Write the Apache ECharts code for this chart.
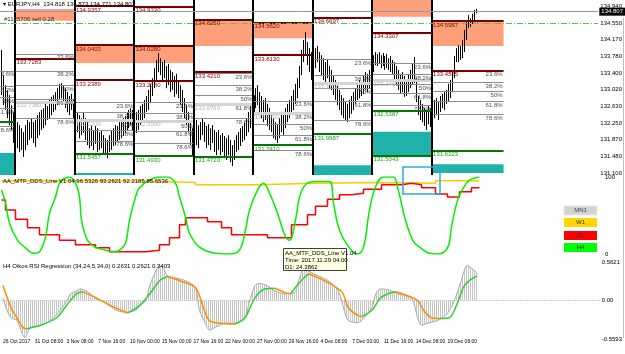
<!DOCTYPE html>
<html>
<head>
<meta charset="utf-8">
<script src="https://cdn.jsdelivr.net/npm/echarts@6/dist/echarts.min.js"></script>
<style>
  html, body { margin: 0; padding: 0; background: #fff; }
  #chart { width: 625px; height: 354px; }
</style>
</head>
<body>
<div id="chart"></div>
<script>
// ---- price bars (H4, one slot = one bar) ----
const barHigh = [
  133.93, 133.35, 133.12, 133.01, 132.89, 132.66, 132.50,
  132.36, 132.27, 132.20, 132.13, 132.04, 132.20, 132.32, 132.27, 132.36, 132.27, 132.32, 132.43, 132.50, 132.55, 132.59, 132.69, 132.64, 132.78, 132.85, 132.89, 132.96, 133.05, 133.15, 133.17, 133.12, 133.05, 132.96, 132.87, 132.92, 132.78,
  132.59, 132.50, 132.43, 132.36, 132.50, 132.36, 132.27, 132.13, 132.20, 132.09, 132.18, 132.13, 132.04, 132.09, 131.97, 131.90, 131.86, 131.97, 132.09, 132.13, 132.20, 132.18, 132.27, 132.32, 132.36, 132.41, 132.50, 132.55, 132.59, 132.55,
  132.59, 132.50, 132.55, 132.64, 132.69, 132.78, 132.87, 133.01, 133.15, 133.28, 133.51, 133.70, 133.86, 133.74, 133.65, 133.70, 133.56, 133.61, 133.47, 133.42, 133.33, 133.38, 133.24, 133.12, 133.01, 132.82, 132.66, 132.50, 132.27, 132.13,
  132.36, 132.32, 132.20, 132.27, 132.36, 132.27, 132.18, 132.22, 132.13, 132.20, 132.09, 132.04, 132.09, 131.97, 132.02, 131.95, 131.90, 131.97, 131.86, 131.74, 131.86, 131.97, 132.04, 132.13, 132.18, 132.27, 132.36, 132.50, 132.64, 132.78,
  132.89, 133.05, 133.12, 132.96, 132.87, 132.78, 132.82, 132.69, 132.59, 132.50, 132.36, 132.27, 132.20, 132.36, 132.50, 132.43, 132.59, 132.69, 132.78, 132.87, 133.01, 133.15, 133.28, 133.56, 133.93, 134.16, 134.34, 134.11, 133.97, 133.88,
  134.04, 133.97, 134.02, 133.88, 133.81, 133.74, 133.65, 133.70, 133.56, 133.47, 133.35, 133.24, 133.10, 133.01, 132.89, 132.82, 132.73, 132.69, 132.78, 132.87, 132.96, 133.05, 133.15, 133.24, 133.19, 133.33, 133.42, 133.38, 133.47, 133.51,
  133.81, 133.88, 133.84, 133.88, 133.81, 133.86, 133.79, 133.84, 133.74, 133.79, 133.70, 133.65, 133.56, 133.47, 133.38, 133.42, 133.33, 133.24, 133.38, 133.47, 133.61, 133.77, 133.28, 132.87, 132.78, 132.69, 132.59, 132.55, 132.64, 132.59,
  132.66, 132.78, 132.82, 132.73, 132.87, 132.92, 132.96, 133.01, 133.15, 133.24, 133.47, 133.79, 133.97, 134.04, 134.02, 134.16, 134.39, 134.57, 134.73, 134.66, 134.76, 134.85, 134.873
];
const barLow = [
  132.89, 132.66, 132.55, 132.36, 132.20, 132.09, 131.79,
  131.86, 131.67, 131.58, 131.63, 131.47, 131.63, 131.74, 131.86, 131.90, 131.79, 131.70, 131.90, 131.97, 132.09, 132.13, 132.20, 132.32, 132.36, 132.43, 132.50, 132.55, 132.66, 132.78, 132.82, 132.73, 132.59, 132.50, 132.43, 132.55, 132.36,
  132.13, 132.04, 131.90, 131.97, 132.02, 131.86, 131.74, 131.67, 131.72, 131.63, 131.77, 131.58, 131.63, 131.67, 131.56, 131.51, 131.44, 131.58, 131.63, 131.72, 131.74, 131.81, 131.86, 131.90, 131.95, 132.02, 132.09, 132.13, 132.20, 132.09,
  132.13, 132.02, 132.09, 132.20, 132.27, 132.36, 132.50, 132.55, 132.73, 132.87, 133.05, 133.24, 133.42, 133.35, 133.19, 133.28, 133.05, 133.12, 132.96, 133.01, 132.85, 132.92, 132.82, 132.66, 132.50, 132.36, 132.20, 132.04, 131.74, 131.51,
  131.63, 131.74, 131.67, 131.86, 131.97, 131.81, 131.67, 131.74, 131.63, 131.79, 131.58, 131.51, 131.63, 131.51, 131.58, 131.44, 131.40, 131.51, 131.35, 131.26, 131.40, 131.58, 131.63, 131.72, 131.81, 131.86, 131.95, 132.04, 132.13, 132.20,
  132.43, 132.59, 132.66, 132.50, 132.36, 132.27, 132.32, 132.18, 132.09, 132.04, 131.90, 131.86, 131.79, 131.90, 132.04, 131.95, 132.13, 132.27, 132.36, 132.46, 132.55, 132.69, 132.82, 133.05, 133.35, 133.65, 133.81, 133.58, 133.42, 133.24,
  133.58, 133.51, 133.65, 133.42, 133.35, 133.24, 133.15, 133.28, 133.05, 133.01, 132.89, 132.78, 132.66, 132.55, 132.43, 132.36, 132.32, 132.27, 132.36, 132.46, 132.55, 132.69, 132.78, 132.82, 132.87, 132.92, 133.01, 132.96, 133.05, 133.12,
  133.42, 133.58, 133.56, 133.61, 133.51, 133.56, 133.47, 133.51, 133.47, 133.42, 133.38, 133.24, 133.10, 133.01, 132.92, 132.96, 132.85, 132.87, 132.96, 133.05, 133.15, 133.17, 132.73, 132.43, 132.32, 132.27, 132.18, 132.09, 132.22, 132.16,
  132.20, 132.36, 132.43, 132.32, 132.50, 132.59, 132.55, 132.69, 132.73, 132.82, 132.96, 133.28, 133.65, 133.65, 133.70, 133.74, 133.88, 134.16, 134.43, 134.46, 134.53, 134.57, 134.771
];
const bidPrice = 134.807;
const hLinePrice = 134.55;

const priceTicks = [134.94, 134.55, 134.17, 133.78, 133.40, 133.02, 132.63, 132.25, 131.87, 131.48, 131.10];
const timeTickBars = [0, 16, 32, 48, 64, 80, 96, 112, 128, 144, 160, 176, 192, 208, 224];
const timeLabels = ['26 Oct 2017', '31 Oct 08:00', '3 Nov 08:00', '7 Nov 16:00', '10 Nov 00:00', '15 Nov 00:00',
  '17 Nov 16:00', '22 Nov 00:00', '27 Nov 00:00', '29 Nov 16:00', '4 Dec 08:00', '7 Dec 00:00',
  '11 Dec 16:00', '14 Dec 08:00', '19 Dec 08:00'];

// ---- weekly levels ----
const weekStart = [-0.75, 7, 37, 67, 97, 127, 157, 187, 217];
const weekEnd = [7, 37, 67, 97, 127, 157, 187, 217, 253];
const weekRed = [[], [133.7283], [134.9357, 134.0403, 133.2389], [134.9330, 134.0280, 133.2180], [134.6250, 133.4210],
  [134.5620, 133.8130], [134.6697], [135.0863, 134.3307], [134.5967, 133.4555]];
const weekSalmon = [null, [134.87, 134.60], [134.0403, 133.63], [134.0280, 133.63], [134.6250, 134.02],
  [134.5620, 134.20], null, [135.0863, 134.69], [134.5967, 134.02]];
const weekTeal = [[131.56, 131.054], null, [131.10, 131.054], null, null, null, [131.28, 131.054], [132.05, 131.5043], [131.30, 131.10]];
const weekFib = [
  [133.45, 133.10, 132.85, 132.59, 132.18],
  [133.84, 133.45, 133.12, 132.80, 132.36],
  [132.73, 132.50, 132.29, 132.09, 131.84],
  [132.73, 132.48, 132.27, 132.07, 131.79],
  [133.40, 133.12, 132.89, 132.69, 132.36],
  [132.76, 132.48, 132.23, 131.97, 131.63],
  [133.72, 133.35, 133.05, 132.75, 132.32],
  [133.63, 133.38, 133.15, 132.94, 132.66],
  [133.4555, 133.18, 132.97, 132.75, 132.46]
];
const fibNames = ['23.6%', '38.2%', '50%', '61.8%', '78.6%'];
const weekPivot = [null, 132.7380, 132.32, 132.30, 132.6760, 132.47, 133.17, 133.24, null];
const weekGreen = [[132.27], [], [131.5457], [131.4930], [131.4720], [131.7410], [131.9987], [132.5387, 131.5043], [131.6223]];

// ---- DDS lines (bar, value) ----
const h4Line = [[0, 83], [2, 66], [4, 40], [8, 18], [12, 8], [16, 1], [19, 3], [22, 22], [24, 53], [27, 74], [29, 92],
  [32, 99], [34, 100], [37, 92], [39, 74], [40, 44], [43, 18], [47, 9], [52, 5], [57, 3], [59, 5], [62, 14], [64, 44],
  [67, 74], [69, 86], [74, 96], [79, 100], [83, 100], [87, 92], [89, 74], [92, 48], [94, 27], [99, 9], [107, 1],
  [114, 0], [119, 5], [122, 31], [124, 57], [128, 83], [131, 92], [134, 79], [138, 53], [142, 22], [144, 18],
  [147, 44], [149, 74], [152, 90], [157, 94], [164, 94], [166, 66], [169, 31], [174, 8], [178, 0], [181, 9],
  [184, 57], [187, 87], [191, 100], [196, 100], [198, 87], [202, 44], [206, 16], [209, 9], [214, 1], [218, 0],
  [223, 8], [225, 35], [228, 70], [231, 86], [234, 96], [239, 100]];
const d1Line = [[0, 70], [2, 57], [7, 45], [13, 34], [19, 25], [29, 18], [37, 12], [47, 8], [54, 3], [72, 5], [79, 12],
  [84, 21], [89, 38], [92, 47], [103, 42], [110, 34], [115, 25], [133, 21], [145, 38], [153, 51], [157, 62], [163, 71],
  [169, 77], [175, 79], [181, 84], [190, 90], [200, 92], [205, 90], [210, 86], [217, 78], [223, 74], [229, 81],
  [235, 86], [239, 86]];
const w1Line = [[0, 95], [64, 93], [97, 90], [127, 92], [157, 93], [187, 92], [217, 95], [239, 95]];

// ---- oscillator (bar, value) ----
const oscGray = [[0, 0.04], [2, -0.14], [4, -0.25], [7, -0.29], [9, -0.43], [11, -0.54], [13, -0.43], [14, -0.39],
  [19, -0.36], [24, -0.29], [29, -0.14], [33, 0.04], [34, 0.10], [37, 0.14], [39, 0.17], [42, 0.14], [47, 0.03],
  [52, -0.04], [57, -0.14], [62, -0.17], [67, -0.14], [69, -0.07], [72, 0], [74, 0.22], [77, 0.43], [79, 0.51],
  [81, 0.46], [83, 0.36], [87, 0.33], [92, 0.29], [97, 0.19], [99, -0.14], [102, -0.33], [104, -0.43], [107, -0.39],
  [112, -0.33], [117, -0.33], [122, -0.25], [124, -0.04], [127, 0.22], [129, 0.25], [133, 0.22], [137, 0.14],
  [142, 0.10], [147, 0.12], [149, 0.29], [152, 0.48], [154, 0.43], [159, 0.36], [164, 0.29], [169, 0.14],
  [172, -0.14], [174, -0.29], [179, -0.32], [182, -0.25], [186, -0.10], [188, 0.10], [190, 0.17], [194, 0.16],
  [199, 0.10], [206, 0.03], [209, -0.25], [211, -0.36], [214, -0.33], [219, -0.29], [224, -0.19], [228, 0.04],
  [231, 0.29], [234, 0.51], [238, 0.43], [239, 0.39]];
const oscReg = [[0, 0.22], [4, -0.10], [7, -0.25], [10, -0.39], [12, -0.41], [19, -0.36], [27, -0.25], [32, -0.07],
  [37, 0.10], [40, 0.13], [47, 0.04], [54, -0.07], [63, -0.18], [69, -0.07], [74, 0.10], [79, 0.29], [83, 0.35],
  [89, 0.29], [97, 0.19], [101, -0.10], [104, -0.29], [109, -0.33], [117, -0.34], [122, -0.25], [127, 0.04],
  [132, 0.17], [137, 0.18], [142, 0.12], [145, 0.10], [149, 0.25], [154, 0.39], [164, 0.26], [171, 0.12],
  [174, -0.10], [179, -0.22], [181, -0.23], [186, -0.14], [190, 0.03], [194, 0.10], [198, 0.13], [202, 0.09],
  [209, 0], [212, -0.14], [216, -0.25], [220, -0.26], [225, -0.25], [229, -0.04], [232, 0.19], [235, 0.29], [239, 0.36]];

const oscMin = -0.5593, oscMax = 0.5621;
const xMin = -0.75, xMax = 300.75;
const priceMin = 131.054, priceMax = 135.078;
const FONT = 'Liberation Sans';

const chart = echarts.init(document.getElementById('chart'), null, { renderer: 'canvas', width: 625, height: 354 });

// pieces of the weekly overlay
const seg = (s, e, p, color, width, label) => [
  { coord: [s, p], lineStyle: { color, width, type: 'solid' }, label: label || { show: false } },
  { coord: [e, p] }
];
const lbl = (text, color, position) => ({
  show: true, formatter: text, position, color, fontSize: 6, fontFamily: FONT, distance: 1
});

const zones = [];
const levelLines = [];
weekStart.forEach((s, k) => {
  const e = weekEnd[k];
  const vis = s >= 0;
  if (weekSalmon[k]) zones.push([{ coord: [s, weekSalmon[k][0]], itemStyle: { color: '#FFA07A' } }, { coord: [e, weekSalmon[k][1]] }]);
  if (weekTeal[k]) zones.push([{ coord: [s, weekTeal[k][0]], itemStyle: { color: '#20B2AA' } }, { coord: [e, weekTeal[k][1]] }]);
  weekFib[k].forEach((p, j) => levelLines.push(seg(s, e, p, '#8C8C8C', 1, lbl(fibNames[j], '#505050', 'insideEndBottom'))));
  if (weekPivot[k]) levelLines.push(seg(s, e, weekPivot[k], '#D4D4D4', 3, vis ? lbl(weekPivot[k].toFixed(4), '#B4B4B4', 'insideStartBottom') : null));
  weekRed[k].forEach(p => levelLines.push(seg(s, e, p, '#7A0000', 2, vis ? lbl(p.toFixed(4), '#8B0000', 'insideStartBottom') : null)));
  weekGreen[k].forEach(p => levelLines.push(seg(s, e, p, '#007A00', 2, vis ? lbl(p.toFixed(4), '#1E9E1E', 'insideStartBottom') : null)));
});
const separators = weekStart.filter(s => s >= 0).map(s => ({ xAxis: s - 0.25, lineStyle: { color: '#000', width: 2, type: 'solid' }, label: { show: false } }));

// regression line: green while rising, orange while falling
const regRuns = [];
for (let i = 0; i < oscReg.length - 1; i++) {
  const up = oscReg[i + 1][1] >= oscReg[i][1];
  const last = regRuns[regRuns.length - 1];
  if (last && last.up === up) last.data.push(oscReg[i + 1]);
  else regRuns.push({ up, data: [oscReg[i], oscReg[i + 1]] });
}

const hatch = document.createElement('canvas');
hatch.width = 2; hatch.height = 2;
const hctx = hatch.getContext('2d');
hctx.fillStyle = '#C4C4C4';
hctx.fillRect(0, 0, 1, 2);

const xAxisBase = (gridIndex) => ({
  type: 'value', gridIndex, min: xMin, max: xMax,
  axisLine: { show: false }, axisTick: { show: false }, splitLine: { show: false }, axisLabel: { show: false }
});
const labelStyle = { fontSize: 6, fontFamily: FONT, color: '#000', margin: 2 };
const timeLabelAt = v => {
  const k = timeTickBars.findIndex(b => Math.abs(b - v) < 0.5);
  return k >= 0 ? timeLabels[k] : '';
};

const option = {
  animation: false,
  backgroundColor: '#fff',
  grid: [
    { left: 0, right: 22, top: 0, height: 175 },
    { left: 0, right: 22, top: 177, height: 77 },
    { left: 0, right: 22, top: 262, height: 77 }
  ],
  xAxis: [
    xAxisBase(0),
    xAxisBase(1),
    {
      ...xAxisBase(2),
      axisLabel: {
        ...labelStyle, fontSize: 5, show: true, align: 'left', margin: 0,
        showMinLabel: true, showMaxLabel: true, hideOverlap: false,
        customValues: timeTickBars,
        formatter: timeLabelAt
      }
    }
  ],
  yAxis: [
    {
      type: 'value', gridIndex: 0, position: 'right', min: priceMin, max: priceMax,
      axisLine: { show: false }, axisTick: { show: false }, splitLine: { show: false },
      axisLabel: { ...labelStyle, customValues: priceTicks, formatter: v => v.toFixed(3) }
    },
    {
      type: 'value', gridIndex: 1, position: 'right', min: 0, max: 100,
      axisLine: { show: false }, axisTick: { show: false }, splitLine: { show: false },
      axisLabel: { ...labelStyle, customValues: [0, 100] }
    },
    {
      type: 'value', gridIndex: 2, position: 'right', min: oscMin, max: oscMax,
      axisLine: { show: false }, axisTick: { show: false }, splitLine: { show: false },
      axisLabel: { ...labelStyle, customValues: [oscMin, 0, oscMax], formatter: v => (v === 0 ? '0.00' : v.toFixed(4)) }
    }
  ],
  series: [
    {
      name: 'zones', type: 'line', xAxisIndex: 0, yAxisIndex: 0, data: [], clip: false, z: 1,
      markArea: { silent: true, data: zones }
    },
    {
      name: 'levels', type: 'line', xAxisIndex: 0, yAxisIndex: 0, data: [], clip: false, z: 2,
      markLine: { silent: true, symbol: ['none', 'none'], animation: false, data: levelLines.concat(separators) }
    },
    {
      name: 'bars', type: 'custom', xAxisIndex: 0, yAxisIndex: 0, z: 3,
      data: barHigh.map((h, i) => [i, h, barLow[i]]),
      renderItem: (params, api) => {
        const hi = api.coord([api.value(0), api.value(1)]);
        const lo = api.coord([api.value(0), api.value(2)]);
        const x = Math.round(hi[0]) + 0.5;
        return { type: 'line', shape: { x1: x, y1: hi[1], x2: x, y2: lo[1] }, style: { stroke: '#000', lineWidth: 1 } };
      }
    },
    {
      name: 'bid', type: 'line', xAxisIndex: 0, yAxisIndex: 0, data: [], clip: false, z: 4,
      markLine: {
        silent: true, symbol: ['none', 'none'], animation: false,
        data: [
          { yAxis: hLinePrice, lineStyle: { color: '#55C455', width: 1, type: [6, 2, 1, 2] }, label: { show: false } },
          {
            yAxis: bidPrice, lineStyle: { color: '#8A9BB0', width: 1, type: 'solid' },
            label: {
              show: true, position: 'end', distance: 1, formatter: bidPrice.toFixed(3),
              color: '#fff', backgroundColor: '#000', padding: [1, 2], fontSize: 6, fontFamily: FONT
            }
          }
        ]
      }
    },
    {
      name: 'W1', type: 'line', xAxisIndex: 1, yAxisIndex: 1, data: w1Line, step: 'end',
      symbol: 'none', lineStyle: { color: '#FFC800', width: 1.5 }, z: 3
    },
    {
      name: 'D1', type: 'line', xAxisIndex: 1, yAxisIndex: 1, data: d1Line, step: 'end',
      symbol: 'none', lineStyle: { color: '#FF0000', width: 1.5 }, z: 4
    },
    {
      name: 'H4', type: 'line', xAxisIndex: 1, yAxisIndex: 1, data: h4Line, smooth: 0.4,
      symbol: 'none', lineStyle: { color: '#00F000', width: 1.5 }, z: 5
    },
    {
      name: 'hist', type: 'line', xAxisIndex: 2, yAxisIndex: 2, data: oscGray, smooth: 0.3,
      symbol: 'none', lineStyle: { color: '#A8A8A8', width: 1 },
      areaStyle: { color: { image: hatch, repeat: 'repeat' }, origin: 0, opacity: 1 },
      markLine: {
        silent: true, symbol: ['none', 'none'], animation: false,
        data: [{ yAxis: 0, lineStyle: { color: '#A0A0A0', width: 1, type: [1, 2] }, label: { show: false } }]
      },
      z: 2
    },
    ...regRuns.map(r => ({
      type: 'line', xAxisIndex: 2, yAxisIndex: 2, data: r.data, smooth: 0.3, symbol: 'none',
      lineStyle: { color: r.up ? '#32CD32' : '#FF8C00', width: 1.5 }, z: 4
    }))
  ],
  graphic: [
    { type: 'text', x: 3, y: 1, style: { text: '\u25BE EURJPY,H4  134.818 134.873 134.771 134.807', font: '6px ' + FONT, fill: '#000' }, z: 100 },
    { type: 'text', x: 4, y: 16, style: { text: '#1125706 sell 0.28', font: '6px ' + FONT, fill: '#333' }, z: 100 },
    { type: 'text', x: 3, y: 178, style: { text: 'AA_MTF_DDS_Line V1.04 96.5326 93.2621 92.2185 85.6536', font: '6px ' + FONT, fill: '#000' }, z: 100 },
    { type: 'text', x: 3, y: 263, style: { text: 'H4 Oikos RSI Regression (34,24,5,34,0) 0.2631 0.2621 0.3403', font: '6px ' + FONT, fill: '#000' }, z: 100 },
    { type: 'rect', shape: { x: 403, y: 167, width: 37, height: 27 }, style: { fill: 'none', stroke: '#2AAAE8', lineWidth: 1.5 }, z: 100 },
    { type: 'rect', shape: { x: 564, y: 206, width: 33, height: 9 }, style: { fill: '#D3D3D3', stroke: '#E6E6E6' }, z: 100 },
    { type: 'text', x: 580.5, y: 210.5, style: { text: 'MN1', font: '6px ' + FONT, fill: '#444', align: 'center', verticalAlign: 'middle' }, z: 101 },
    { type: 'rect', shape: { x: 564, y: 218, width: 33, height: 9 }, style: { fill: '#FFD700' }, z: 100 },
    { type: 'text', x: 580.5, y: 222.5, style: { text: 'W1', font: '6px ' + FONT, fill: '#333', align: 'center', verticalAlign: 'middle' }, z: 101 },
    { type: 'rect', shape: { x: 564, y: 231, width: 33, height: 9 }, style: { fill: '#FF0000' }, z: 100 },
    { type: 'text', x: 580.5, y: 235.5, style: { text: 'D1', font: '6px ' + FONT, fill: '#222', align: 'center', verticalAlign: 'middle' }, z: 101 },
    { type: 'rect', shape: { x: 564, y: 243, width: 33, height: 9 }, style: { fill: '#00FF00' }, z: 100 },
    { type: 'text', x: 580.5, y: 247.5, style: { text: 'H4', font: '6px ' + FONT, fill: '#222', align: 'center', verticalAlign: 'middle' }, z: 101 },
    { type: 'rect', shape: { x: 283.5, y: 248.5, width: 63, height: 22 }, style: { fill: '#FFFFE1', stroke: '#404040', lineWidth: 1 }, z: 100 },
    {
      type: 'text', x: 285, y: 250,
      style: { text: 'AA_MTF_DDS_Line V1.04\nTime: 2017.11.29 04:00\nD1: 24.3862', font: '6px ' + FONT, fill: '#000', lineHeight: 7 },
      z: 101
    },
    { type: 'line', shape: { x1: 623.5, y1: 18, x2: 623.5, y2: 338 }, style: { stroke: '#B8C0D0', lineWidth: 1 }, z: 100 }
  ]
};

chart.setOption(option);
</script>
</body>
</html>
